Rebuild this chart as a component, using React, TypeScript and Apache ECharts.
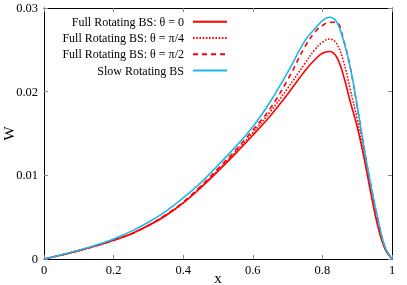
import React, { useEffect, useRef } from "react";
import * as echarts from "echarts";

const xs = [0, 0.05, 0.1, 0.15, 0.2, 0.25, 0.3, 0.35, 0.4, 0.45, 0.5, 0.55, 0.6, 0.65, 0.7, 0.75, 0.78, 0.8, 0.82, 0.84, 0.86, 0.88, 0.9, 0.92, 0.94, 0.96, 0.98, 1];
const theta0 = [0, 0.00048, 0.001, 0.00158, 0.00225, 0.003, 0.004, 0.0052, 0.0067, 0.0085, 0.0105, 0.0126, 0.0148, 0.0171, 0.0197, 0.0225, 0.0239, 0.0246, 0.0248, 0.0242, 0.022, 0.0188, 0.0158, 0.012, 0.0077, 0.0038, 0.0012, 0];
const thetaQuarter = [0, 0.00048, 0.001, 0.00158, 0.00225, 0.003, 0.004, 0.0052, 0.0067, 0.0086, 0.0106, 0.0128, 0.0151, 0.0176, 0.0204, 0.0234, 0.0251, 0.0259, 0.0263, 0.0258, 0.0237, 0.0203, 0.0167, 0.0125, 0.008, 0.004, 0.0012, 0];
const thetaHalf = [0, 0.00048, 0.001, 0.00158, 0.00225, 0.003, 0.004, 0.0053, 0.0068, 0.0087, 0.0108, 0.013, 0.0154, 0.018, 0.0214, 0.0254, 0.0272, 0.0279, 0.0283, 0.0283, 0.0263, 0.0229, 0.0182, 0.0132, 0.0086, 0.0046, 0.0014, 0];
const slow = [0, 0.0005, 0.00104, 0.00166, 0.0024, 0.0033, 0.0044, 0.0057, 0.0073, 0.0091, 0.0112, 0.0134, 0.0158, 0.0188, 0.0223, 0.0261, 0.0276, 0.0285, 0.0289, 0.0284, 0.0262, 0.0229, 0.0183, 0.0132, 0.0087, 0.0047, 0.0014, 0];

const seriesNames = [
  "Full Rotating BS: θ = 0",
  "Full Rotating BS: θ = π/4",
  "Full Rotating BS: θ = π/2",
  "Slow Rotating BS",
];

const FONT = "Liberation Serif";
const RED = "#ff0000";
const CYAN = "#1cb8ee";

function pairs(ys: number[]) {
  return xs.map((x, i) => [x, ys[i]]);
}

export default function App() {
  const ref = useRef<HTMLDivElement>(null);
  useEffect(() => {
    if (!ref.current) return;
    const chart = echarts.init(ref.current, undefined, { renderer: "svg" });
    const tick = { show: true, inside: true, length: 4, lineStyle: { color: "#888", width: 1 } };
    const axLine = { show: true, onZero: false, lineStyle: { color: "#000", width: 1 } };
    const label = { fontFamily: FONT, fontSize: 12.5, color: "#000" };
    const mk = (name: string, ys: number[], color: string, type: any, z: number) => ({
      name,
      type: "line",
      data: pairs(ys),
      smooth: 0.4,
      symbol: "none",
      showSymbol: false,
      z,
      lineStyle: { color, width: 1.6, type },
      itemStyle: { color },
    });
    chart.setOption({
      animation: false,
      grid: { left: 44, right: 15, top: 8, bottom: 26, containLabel: false, outerBoundsMode: "none" },
      legend: {
        orient: "vertical",
        align: "right",
        right: 179,
        top: 14.7,
        padding: 0,
        itemWidth: 34,
        itemHeight: 14,
        itemGap: 2.3,
        itemStyle: { opacity: 0 },
        textStyle: { fontFamily: FONT, fontSize: 12, color: "#000", lineHeight: 14, padding: [0, 4, 0, 0] },
        data: seriesNames,
      },
      xAxis: [
        {
          type: "value",
          min: 0,
          max: 1,
          interval: 0.2,
          position: "bottom",
          axisLine: axLine,
          axisTick: tick,
          splitLine: { show: false },
          axisLabel: { ...label, margin: 4 },
          name: "x",
          nameLocation: "middle",
          nameGap: 12,
          nameMoveOverlap: false,
          nameTextStyle: { fontFamily: FONT, fontSize: 15, lineHeight: 13, color: "#000" },
        },
        {
          type: "value",
          min: 0,
          max: 1,
          interval: 0.2,
          position: "top",
          axisLine: axLine,
          axisTick: tick,
          splitLine: { show: false },
          axisLabel: { show: false },
        },
      ],
      yAxis: [
        {
          type: "value",
          min: 0,
          max: 0.03,
          interval: 0.01,
          position: "left",
          axisLine: axLine,
          axisTick: tick,
          splitLine: { show: false },
          axisLabel: { ...label, margin: 6 },
          name: "W",
          nameLocation: "middle",
          nameGap: 28,
          nameMoveOverlap: false,
          nameTextStyle: { fontFamily: FONT, fontSize: 15, color: "#000" },
        },
        {
          type: "value",
          min: 0,
          max: 0.03,
          interval: 0.01,
          position: "right",
          axisLine: axLine,
          axisTick: tick,
          splitLine: { show: false },
          axisLabel: { show: false },
        },
      ],
      series: [
        mk(seriesNames[0], theta0, RED, "solid", 2),
        mk(seriesNames[1], thetaQuarter, RED, [1.6, 1.6], 3),
        mk(seriesNames[2], thetaHalf, RED, [5, 4], 4),
        mk(seriesNames[3], slow, CYAN, "solid", 5),
      ],
    });
    return () => chart.dispose();
  }, []);
  return <div ref={ref} style={{ position: "fixed", left: 0, top: 0, width: 407, height: 285 }} />;
}
